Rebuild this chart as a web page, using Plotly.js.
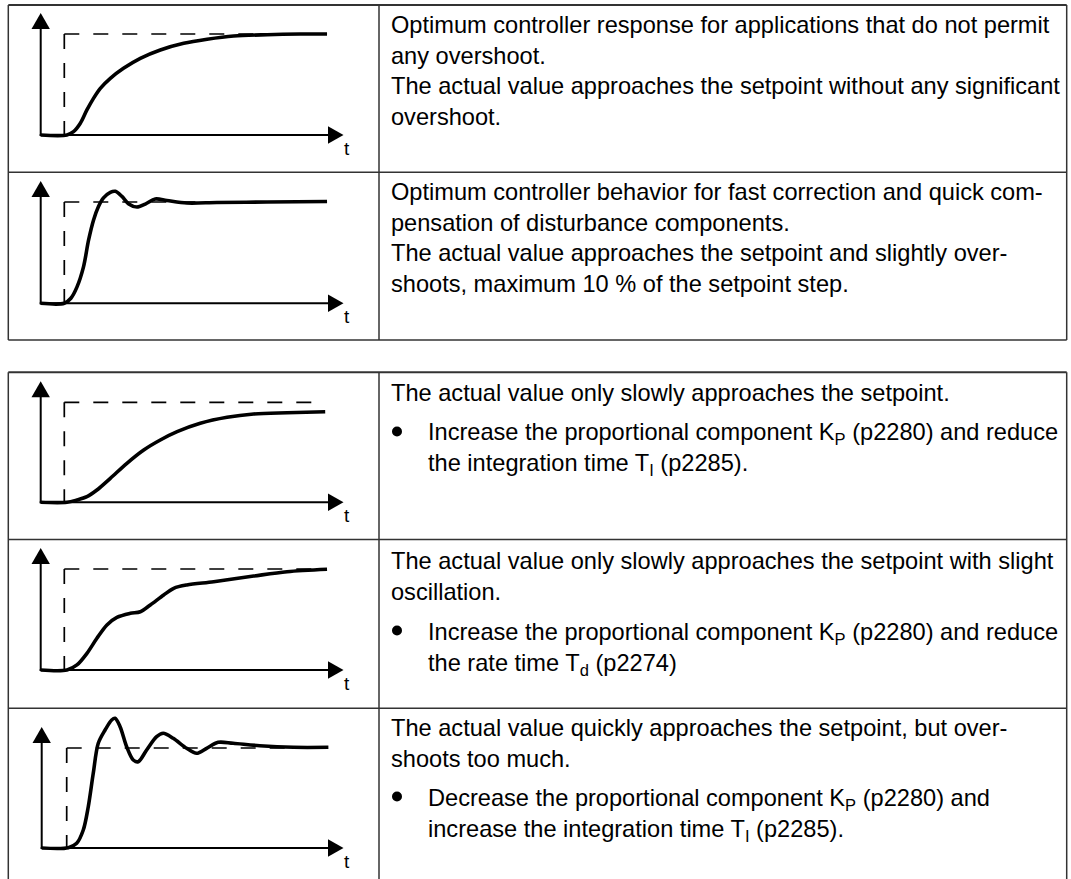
<!DOCTYPE html>
<html>
<head>
<meta charset="utf-8">
<script src="https://cdn.plot.ly/plotly-3.0.1.min.js"></script>
<style>
html,body{margin:0;padding:0;background:#fff;}
#chart{width:1071px;height:879px;}
</style>
</head>
<body>
<div id="chart"></div>
<script>
// ---------- DATA (normalised step responses: time t, value v; setpoint = 1) ----------
const t1 = [-0.9, 0.10, 0.35, 0.61, 0.86, 1.11, 1.37, 1.75, 2.25, 2.89, 3.65, 4.54, 5.43, 6.44, 7.71, 8.97, 9.99];
const v1 = [0, 0, 0.033, 0.116, 0.248, 0.363, 0.462, 0.561, 0.66, 0.759, 0.842, 0.908, 0.948, 0.98, 0.993, 1.0, 1.0];

const t2 = [-0.9, 0.0, 0.25, 0.48, 0.73, 0.92, 1.11, 1.30, 1.49, 1.75, 1.94, 2.19, 2.45, 2.76, 3.08, 3.46, 3.90, 4.66, 5.80, 7.71, 9.99];
const v2 = [0, 0, 0.05, 0.16, 0.36, 0.62, 0.82, 0.955, 1.04, 1.095, 1.105, 1.055, 0.98, 0.95, 0.98, 1.03, 1.015, 0.99, 0.995, 1.0, 1.005];

const t3 = [-0.9, 0.10, 0.48, 0.86, 1.24, 1.75, 2.38, 3.02, 3.65, 4.29, 5.17, 6.19, 7.20, 8.47, 9.92];
const v3 = [0, 0, 0.023, 0.056, 0.123, 0.24, 0.39, 0.523, 0.623, 0.706, 0.79, 0.85, 0.883, 0.896, 0.906];

const t4 = [-0.9, 0.10, 0.48, 0.86, 1.24, 1.62, 2.00, 2.51, 2.89, 3.27, 3.78, 4.16, 4.66, 5.68, 7.20, 8.47, 9.99];
const v4 = [0, 0, 0.05, 0.165, 0.314, 0.446, 0.521, 0.561, 0.577, 0.644, 0.743, 0.809, 0.842, 0.874, 0.93, 0.973, 0.997];

const t5 = [-0.95, 0.06, 0.38, 0.63, 0.82, 1.01, 1.20, 1.46, 1.71, 1.84, 2.03, 2.28, 2.53, 2.72, 3.04, 3.42, 3.67, 4.05, 4.56, 4.94, 5.32, 5.76, 6.33, 7.34, 8.62, 9.95];
const v5 = [0, 0.003, 0.047, 0.18, 0.413, 0.747, 1.047, 1.18, 1.28, 1.297, 1.213, 1.013, 0.88, 0.863, 0.98, 1.113, 1.147, 1.097, 0.997, 0.947, 0.997, 1.057, 1.047, 1.023, 1.007, 1.007];

const setpointT = [0, 0, 9.7];   // step time, step time, end of dashed setpoint line
const setpointV = [0, 1, 1];     // before step, setpoint, setpoint

const axisLabel = 't';

// ---------- TEXT ----------
const introText = [
  'Optimum controller response for applications that do not permit<br>any overshoot.',
  'Optimum controller behavior for fast correction and quick com-<br>pensation of disturbance components.',
  'The actual value only slowly approaches the setpoint.',
  'The actual value only slowly approaches the setpoint with slight<br>oscillation.',
  'The actual value quickly approaches the setpoint, but over-<br>shoots too much.'
];
const secondText = [
  'The actual value approaches the setpoint without any significant<br>overshoot.',
  'The actual value approaches the setpoint and slightly over-<br>shoots, maximum 10 % of the setpoint step.',
  'Increase the proportional component K<sub>P</sub> (p2280) and reduce<br>the integration time T<sub>I</sub> (p2285).',
  'Increase the proportional component K<sub>P</sub> (p2280) and reduce<br>the rate time T<sub>d</sub> (p2274)',
  'Decrease the proportional component K<sub>P</sub> (p2280) and<br>increase the integration time T<sub>I</sub> (p2285).'
];
const secondIsBullet = [false, false, true, true, true];

// ---------- LAYOUT GEOMETRY (pixels) ----------
const W = 1071, H = 879;
const P = px => px / W;
const Q = py => 1 - py / H;
const K = 26.3; // px per time unit
const geom = [
  {ox: 40.7, sx: 64.3, ay: 135,   sy: 34,    b1: 32,    b2: 93},
  {ox: 40.7, sx: 64.3, ay: 303.3, sy: 202,   b1: 199,   b2: 260},
  {ox: 40.7, sx: 64.3, ay: 502.3, sy: 402.3, b1: 400.7, b2: 440},
  {ox: 40.7, sx: 64.3, ay: 670,   sy: 569,   b1: 568,   b2: 639},
  {ox: 41.7, sx: 66.7, ay: 848,   sy: 748,   b1: 735,   b2: 805}
];
const T = [t1, t2, t3, t4, t5];
const V = [v1, v2, v3, v4, v5];

const FONT = 'Liberation Sans, Arial, sans-serif';
const FS = 23.6;
const BORDER = '#333';

const data = [];
const shapes = [];
const annotations = [];
const layout = {
  width: W, height: H,
  margin: {l: 0, r: 0, t: 0, b: 0},
  paper_bgcolor: '#fff',
  plot_bgcolor: 'rgba(0,0,0,0)',
  showlegend: false,
  shapes: shapes,
  annotations: annotations
};

geom.forEach((g, i) => {
  const n = i === 0 ? '' : String(i + 1);
  const kv = g.ay - g.sy;
  layout['xaxis' + n] = {domain: [0, 1], range: [(0 - g.sx) / K, (W - g.sx) / K], visible: false, fixedrange: true, anchor: 'y' + n};
  layout['yaxis' + n] = {domain: [0, 1], range: [(g.ay - H) / kv, g.ay / kv], visible: false, fixedrange: true, anchor: 'x' + n};

  // setpoint (dashed), drawn from the corner outward
  data.push({x: [setpointT[1], setpointT[0]], y: [setpointV[1], setpointV[0]], xaxis: 'x' + n, yaxis: 'y' + n,
    mode: 'lines', line: {color: '#000', width: 1.7, dash: '15px,14px'}, hoverinfo: 'skip', cliponaxis: false});
  data.push({x: [setpointT[1], setpointT[2]], y: [setpointV[1], setpointV[2]], xaxis: 'x' + n, yaxis: 'y' + n,
    mode: 'lines', line: {color: '#000', width: 1.7, dash: '15px,14px'}, hoverinfo: 'skip', cliponaxis: false});
  // actual value
  data.push({x: T[i], y: V[i], xaxis: 'x' + n, yaxis: 'y' + n, mode: 'lines',
    line: {color: '#000', width: 3.6, shape: 'spline', smoothing: 0.9}, hoverinfo: 'skip', cliponaxis: false});

  // axes with arrowheads
  shapes.push({type: 'line', xref: 'paper', yref: 'paper', x0: P(g.ox), x1: P(g.ox), y0: Q(g.ay + 1), y1: Q(g.sy - 8), line: {color: '#000', width: 2}});
  shapes.push({type: 'line', xref: 'paper', yref: 'paper', x0: P(g.ox - 1), x1: P(331), y0: Q(g.ay), y1: Q(g.ay), line: {color: '#000', width: 2}});
  const up = `M ${P(g.ox - 9.2)},${Q(g.sy - 5)} L ${P(g.ox)},${Q(g.sy - 21)} L ${P(g.ox + 9.2)},${Q(g.sy - 5)} Z`;
  const rt = `M ${P(328)},${Q(g.ay - 8.7)} L ${P(343.5)},${Q(g.ay)} L ${P(328)},${Q(g.ay + 8.7)} Z`;
  shapes.push({type: 'path', xref: 'paper', yref: 'paper', path: up, fillcolor: '#000', line: {width: 0}});
  shapes.push({type: 'path', xref: 'paper', yref: 'paper', path: rt, fillcolor: '#000', line: {width: 0}});
  annotations.push({xref: 'paper', yref: 'paper', x: P(347), y: Q(g.ay + 13), text: axisLabel, showarrow: false,
    xanchor: 'center', yanchor: 'middle', font: {family: FONT, size: 19, color: '#000'}});

  // text column
  annotations.push({xref: 'paper', yref: 'paper', x: P(389), y: Q(g.b1 - 22.5), text: introText[i], showarrow: false,
    xanchor: 'left', yanchor: 'top', align: 'left', font: {family: FONT, size: FS, color: '#000'}});
  const tx = secondIsBullet[i] ? 425.5 : 389;
  annotations.push({xref: 'paper', yref: 'paper', x: P(tx), y: Q(g.b2 - 22.5), text: secondText[i], showarrow: false,
    xanchor: 'left', yanchor: 'top', align: 'left', font: {family: FONT, size: FS, color: '#000'}});
  if (secondIsBullet[i]) {
    shapes.push({type: 'circle', xref: 'paper', yref: 'paper', x0: P(392), x1: P(402), y0: Q(g.b2 - 13.5), y1: Q(g.b2 - 3.5),
      fillcolor: '#000', line: {width: 0}});
  }
});

// table borders
function hline(x0, x1, y, w) { shapes.push({type: 'line', xref: 'paper', yref: 'paper', x0: P(x0), x1: P(x1), y0: Q(y), y1: Q(y), line: {color: BORDER, width: w || 1.5}}); }
function vline(x, y0, y1, w) { shapes.push({type: 'line', xref: 'paper', yref: 'paper', x0: P(x), x1: P(x), y0: Q(y0), y1: Q(y1), line: {color: BORDER, width: w || 1.5}}); }
// table 1
hline(8.3, 1066.7, 5, 2);
hline(8.3, 1066.7, 172.3);
hline(8.3, 1066.7, 340);
vline(8.3, 5, 340); vline(379, 5, 340); vline(1066.7, 5, 340);
// table 2
hline(8.3, 1066.7, 372.3, 2);
hline(8.3, 1066.7, 539.5);
hline(8.3, 1066.7, 708.3);
vline(8.3, 372.3, 885); vline(379, 372.3, 885); vline(1066.7, 372.3, 885);

Plotly.newPlot('chart', data, layout, {staticPlot: true, displayModeBar: false});
</script>
</body>
</html>
